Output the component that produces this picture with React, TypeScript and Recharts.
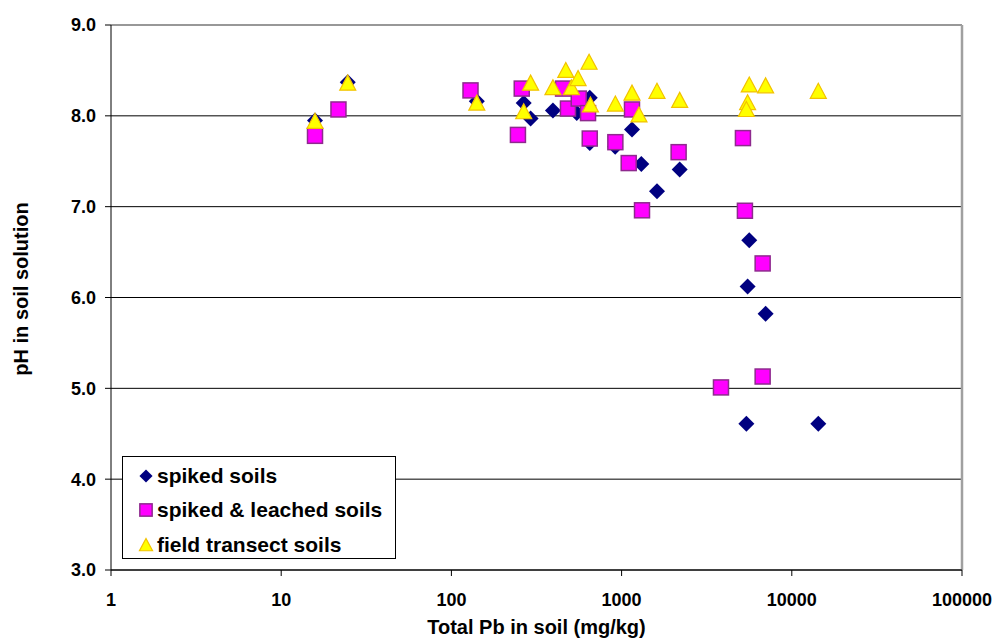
import React from "react";
import {
  ScatterChart,
  Scatter,
  XAxis,
  YAxis,
  CartesianGrid,
  ReferenceLine,
  Legend,
} from "recharts";

// Total Pb (mg/kg) and soil-solution pH, per soil group
const spikedPb = [15.8, 24.6, 141, 266, 292, 395, 545, 650, 650, 917, 1151, 1306, 1614, 2194, 5625, 5500, 7015, 5408, 14310];
const spikedPh = [7.95, 8.37, 8.16, 8.14, 7.97, 8.06, 8.03, 8.2, 7.7, 7.66, 7.85, 7.47, 7.17, 7.41, 6.63, 6.12, 5.82, 4.61, 4.61];

const leachedPb = [15.8, 21.7, 129.5, 259, 246, 453, 484, 560, 635, 650, 919, 1151, 1101, 2163, 1318, 5163, 5304, 6741, 6741, 3836];
const leachedPh = [7.78, 8.07, 8.28, 8.3, 7.79, 8.3, 8.08, 8.19, 8.03, 7.75, 7.71, 8.07, 7.48, 7.6, 6.96, 7.755, 6.955, 6.375, 5.13, 5.01];

const fieldPb = [15.8, 24.6, 141, 292, 266, 395, 470, 507, 555, 644, 656, 919, 1151, 1265, 1614, 2194, 5625, 7015, 5500, 5408, 14310];
const fieldPh = [7.94, 8.36, 8.14, 8.36, 8.045, 8.31, 8.5, 8.31, 8.41, 8.59, 8.12, 8.13, 8.25, 8.01, 8.27, 8.17, 8.34, 8.33, 8.145, 8.07, 8.27];

const xTicks = [1, 10, 100, 1000, 10000, 100000];
const yTicks = [3, 4, 5, 6, 7, 8, 9];

const toPoints = (xs: number[], ys: number[]) => xs.map((x, i) => ({ pb: x, ph: ys[i] }));

const FONT = "'Liberation Sans', Arial, Helvetica, sans-serif";

const series = [
  { name: "spiked soils", data: toPoints(spikedPb, spikedPh), kind: "diamond" },
  { name: "spiked & leached soils", data: toPoints(leachedPb, leachedPh), kind: "square" },
  { name: "field transect soils", data: toPoints(fieldPb, fieldPh), kind: "triangle" },
];

function Marker({ kind, cx, cy, s = 1 }: { kind: string; cx: number; cy: number; s?: number }) {
  if (kind === "diamond") {
    const r = 8 * s;
    return (
      <polygon
        points={`${cx},${cy - r} ${cx + r},${cy} ${cx},${cy + r} ${cx - r},${cy}`}
        fill="#000080"
      />
    );
  }
  if (kind === "square") {
    const h = 7.5 * s;
    return (
      <rect x={cx - h} y={cy - h} width={h * 2} height={h * 2} fill="#FF00FF" stroke="#8E2A8E" strokeWidth={1.5} />
    );
  }
  const w = 8 * s;
  return (
    <polygon
      points={`${cx},${cy - 8 * s} ${cx + w},${cy + 7 * s} ${cx - w},${cy + 7 * s}`}
      fill="#FFFF00"
      stroke="#F2C200"
      strokeWidth={1.2}
    />
  );
}

const shapeFor = (kind: string) => (p: any) => <Marker kind={kind} cx={p.cx} cy={p.cy} />;

function LegendBox() {
  return (
    <div
      style={{
        width: 272,
        height: 101,
        border: "1px solid #000",
        background: "#fff",
        fontFamily: FONT,
        fontWeight: "bold",
        fontSize: 21,
        position: "relative",
      }}
    >
      {series.map((s, i) => (
        <div key={s.name} style={{ position: "absolute", left: 0, top: [6, 40, 75][i], height: 26, display: "flex", alignItems: "center" }}>
          <svg width={34} height={26} style={{ display: "block" }}>
            <Marker kind={s.kind} cx={23} cy={13} s={0.82} />
          </svg>
          <span style={{ marginLeft: 0, whiteSpace: "nowrap", color: "#000" }}>{s.name}</span>
        </div>
      ))}
    </div>
  );
}

export default function App() {
  const tickStyle = { fontFamily: FONT, fontWeight: "bold", fontSize: 18, fill: "#000" };
  return (
    <div style={{ position: "absolute", left: 0, top: 0, width: 996, height: 644, background: "#fff" }}>
      <ScatterChart width={996} height={644} margin={{ top: 25, right: 34, bottom: 0, left: 0 }}>
        <CartesianGrid horizontal vertical={false} stroke="#000" strokeOpacity={1} />
        <XAxis
          type="number"
          dataKey="pb"
          scale="log"
          domain={[1, 100000]}
          ticks={xTicks}
          allowDataOverflow
          height={74}
          axisLine={{ stroke: "#000" }}
          tickLine={{ stroke: "#000" }}
          tickSize={6}
          tickMargin={17}
          tick={tickStyle}
          tickFormatter={(v) => String(v)}
          label={{
            value: "Total Pb in soil (mg/kg)",
            position: "insideBottom",
            offset: 10,
            style: { fontFamily: FONT, fontWeight: "bold", fontSize: 20, fill: "#000" },
          }}
        />
        <YAxis
          type="number"
          dataKey="ph"
          domain={[3, 9]}
          ticks={yTicks}
          width={111}
          axisLine={{ stroke: "#000" }}
          tickLine={{ stroke: "#000" }}
          tickSize={6}
          tickMargin={9}
          tick={tickStyle}
          tickFormatter={(v) => Number(v).toFixed(1)}
          label={{
            content: () => (
              <text
                x={21}
                y={289}
                transform="rotate(-90 21 289)"
                textAnchor="middle"
                dominantBaseline="central"
                style={{ fontFamily: FONT, fontWeight: "bold", fontSize: 20, fill: "#000" }}
              >
                pH in soil solution
              </text>
            ),
          }}
        />
        <ReferenceLine y={9} stroke="#A0A0A0" strokeWidth={1.5} />
        <ReferenceLine x={100000} stroke="#A0A0A0" strokeWidth={2.5} />
        <Legend
          layout="vertical"
          align="center"
          verticalAlign="middle"
          content={() => <LegendBox />}
          wrapperStyle={{ left: 122, top: 456, width: 274, height: 103 }}
        />
        {series.map((s) => (
          <Scatter
            key={s.name}
            name={s.name}
            data={s.data}
            shape={shapeFor(s.kind)}
            isAnimationActive={false}
          />
        ))}
      </ScatterChart>
    </div>
  );
}
